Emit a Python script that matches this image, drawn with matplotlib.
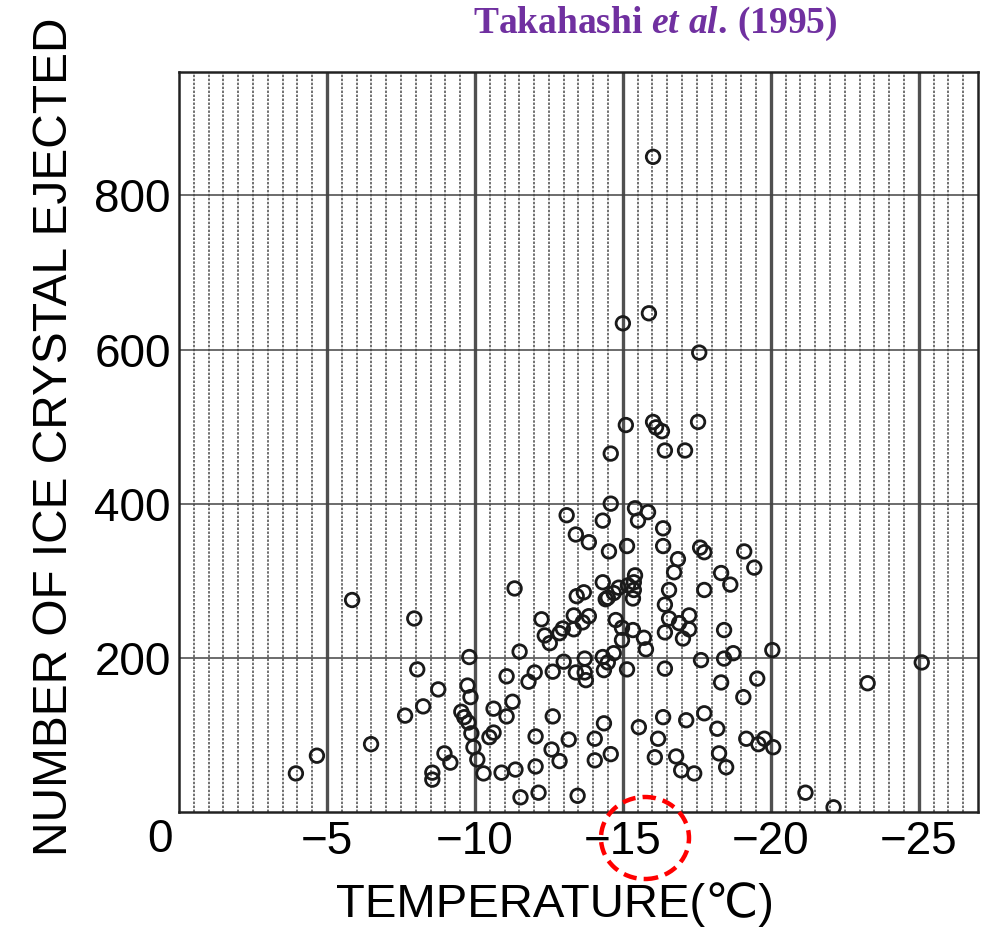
import matplotlib
matplotlib.use('Agg')
import matplotlib.pyplot as plt
from matplotlib.patches import Ellipse

plt.rcParams['font.family'] = ['Liberation Sans', 'DejaVu Sans']
plt.rcParams['mathtext.fontset'] = 'custom'
plt.rcParams['mathtext.it'] = 'Liberation Serif:italic:bold'
plt.rcParams['mathtext.rm'] = 'Liberation Serif:bold'

# ====================== data ======================
temp = [-3.95, -4.66, -5.85, -6.49, -7.95, -8.05, -8.76, -8.25, -7.64, -8.56,
        -8.56, -8.97, -9.17, -9.81, -9.75, -9.85, -9.54, -9.64, -9.78, -9.88,
        -9.95, -10.08, -10.29, -10.63, -11.07, -11.27, -11.07, -10.49, -10.63, -10.90,
        -11.37, -11.54, -12.15, -12.05, -12.05, -12.63, -12.59, -12.86, -13.17, -14.05,
        -14.05, -13.47, -11.51, -11.81, -12.02, -12.63, -13.0, -13.41, -13.71, -13.71,
        -13.75, -12.25, -12.36, -12.53, -12.86, -12.97, -13.34, -13.34, -13.64, -13.85,
        -13.44, -13.68, -11.34, -13.10, -13.41, -13.85, -14.32, -14.53, -14.59, -14.32,
        -14.49, -14.69, -14.86, -15.17, -14.76, -14.97, -14.97, -14.32, -14.69, -14.49,
        -14.36, -15.14, -15.14, -15.41, -15.51, -15.85, -15.41, -15.37, -15.37, -15.34,
        -15.71, -15.78, -15.34, -16.36, -16.36, -16.86, -16.73, -16.56, -16.42, -16.56,
        -16.90, -17.24, -17.24, -17.03, -16.42, -16.42, -17.61, -17.75, -19.10, -19.44,
        -18.32, -18.63, -17.75, -14.42, -15.0, -15.88, -17.58, -15.10, -16.02, -16.12,
        -16.32, -17.54, -16.42, -17.10, -14.59, -16.02, -18.42, -17.64, -18.42, -18.73,
        -20.05, -18.32, -19.54, -19.07, -14.36, -15.54, -16.36, -17.14, -17.75, -18.19,
        -16.19, -19.17, -19.78, -19.58, -20.08, -14.59, -16.08, -16.80, -18.25, -16.97,
        -17.41, -18.49, -25.10, -23.27, -21.17, -22.12]

n_crystals = [50, 73, 275, 88, 251, 185, 159, 137, 125, 51,
              42, 76, 64, 201, 164, 149, 130, 123, 116, 102,
              84, 68, 50, 134, 124, 143, 176, 97, 103, 51,
              55, 19, 25, 59, 98, 124, 81, 66, 94, 95,
              67, 21, 208, 169, 181, 182, 195, 181, 199, 181,
              171, 250, 229, 219, 232, 238, 255, 237, 246, 254,
              280, 285, 290, 385, 360, 350, 378, 338, 400, 298,
              278, 284, 291, 294, 249, 239, 223, 201, 206, 194,
              184, 185, 345, 394, 378, 389, 307, 298, 288, 277,
              226, 211, 236, 368, 345, 328, 311, 288, 269, 251,
              245, 255, 237, 225, 233, 186, 343, 337, 338, 317,
              310, 295, 288, 276, 634, 647, 596, 502, 506, 499,
              494, 506, 469, 469, 465, 850, 236, 197, 199, 206,
              210, 168, 173, 149, 115, 110, 123, 119, 128, 108,
              95, 95, 95, 88, 84, 75, 71, 72, 76, 54,
              50, 58, 194, 167, 25, 6]

x_ticks = [-5, -10, -15, -20, -25]
x_labels = ['\u22125', '\u221210', '\u221215', '\u221220', '\u221225']
y_ticks = [200, 400, 600, 800]

# ====================== figure ======================
fig = plt.figure(figsize=(9.82, 9.32), dpi=100)
ax = fig.add_axes([0.1823, 0.1288, 0.8136, 0.7939])

ax.set_xlim(0, -27)
ax.set_ylim(0, 960)

# scanned-paper grid: dotted lines every 0.5 degC, heavy ones every 5 degC
minor = [-0.5 * i for i in range(1, 54)]
ax.set_xticks(minor, minor=True)
ax.set_xticks(x_ticks)
ax.set_xticklabels(x_labels, fontsize=33)
ax.set_yticks(y_ticks)
ax.set_yticklabels([str(v) for v in y_ticks], fontsize=33)
ax.tick_params(which='both', length=0)
ax.tick_params(axis='x', pad=6)
ax.tick_params(axis='y', pad=6)

ax.grid(which='minor', axis='x', color='#4a4a4a', lw=1.1, linestyle=(0, (1.6, 1.0)))
ax.grid(which='major', axis='x', color='#505050', lw=2.4)
ax.grid(which='major', axis='y', color='#444444', lw=1.1)
ax.set_axisbelow(True)

for s in ax.spines.values():
    s.set_linewidth(1.8)
    s.set_color('#222222')

ax.scatter(temp, n_crystals, s=95, facecolors='none', edgecolors='#1a1a1a',
           linewidths=2.0, zorder=3)

ax.annotate('0', xy=(0, 0), xytext=(-14, -4.5), textcoords='offset points',
            ha='center', va='top', fontsize=33)

fig.text(555 / 982, 1 - 905 / 932, 'TEMPERATURE(\u2103)', ha='center', va='center',
         fontsize=34)
fig.text(0.056, 1 - 437 / 932, 'NUMBER OF ICE CRYSTAL EJECTED', rotation=90,
         ha='center', va='center', fontsize=34.5)

# title at the top of the slide
fig.text(655 / 982, 1 - 33 / 932, r'Takahashi $et\ al.\,$(1995)', ha='center',
         va='baseline', fontsize=27, fontweight='bold', family='Liberation Serif',
         color='#7030A0')

# red dashed highlight around -15
ell = Ellipse((645 / 982, 1 - 838 / 932), 88 / 982, 82 / 932, transform=fig.transFigure,
              fill=False, edgecolor='#ff0000', lw=3.2, linestyle=(0, (3, 1.6)))
fig.add_artist(ell)

plt.savefig('out.png', dpi=100)
